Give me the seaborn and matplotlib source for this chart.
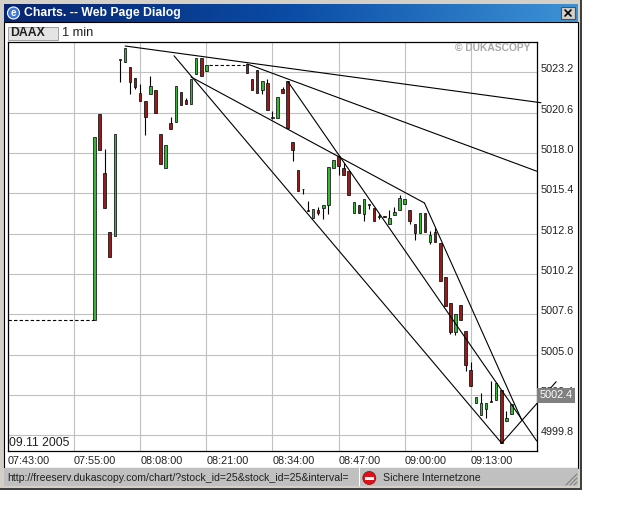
import numpy as np
import pandas as pd
import matplotlib
matplotlib.use("Agg")
import matplotlib.pyplot as plt
from matplotlib.colors import LinearSegmentedColormap
from matplotlib.patches import Rectangle, Circle
import seaborn as sns

# candle data (slot = 1 minute step on the x axis)
slots = list(range(17, 40)) + list(range(47, 100))
opens = [5007.21, 5020.50, 5016.72, 5012.89, 5012.63, 5024.00, 5023.86, 5023.54, 5022.83, 5021.86,
         5021.34, 5021.83, 5022.05, 5019.21, 5017.06, 5019.92, 5020.03, 5021.92, 5021.43, 5021.19,
         5023.12, 5024.15, 5023.32,
         5023.75, 5022.76, 5023.36, 5022.09, 5022.50, 5020.27, 5020.28, 5022.16, 5022.63, 5018.70,
         5016.89, 5015.66, 5014.33, 5013.80, 5014.33, 5014.48, 5014.63, 5017.06, 5017.83, 5017.02,
         5016.83, 5014.16, 5014.63, 5014.05, 5014.66, 5014.44, 5013.88, 5013.94, 5013.41, 5013.99,
         5014.31, 5014.70, 5014.31, 5013.41, 5012.83, 5014.12, 5012.29, 5012.93, 5012.18, 5009.99,
         5008.31, 5006.48, 5008.18, 5006.51, 5003.99, 5001.86, 5001.09, 5001.48, 5001.93, 5002.06,
         5002.70, 5000.70, 5001.15]
closes = [5019.02, 5018.22, 5014.48, 5011.28, 5019.21, 5024.07, 5024.78, 5022.61, 5022.28, 5021.38,
          5020.31, 5022.31, 5020.61, 5017.32, 5018.50, 5019.58, 5022.31, 5021.12, 5021.19, 5022.76,
          5024.15, 5022.99, 5023.66,
          5023.19, 5022.09, 5021.90, 5022.63, 5020.80, 5020.33, 5021.60, 5021.90, 5019.60, 5018.22,
          5015.54, 5015.70, 5014.29, 5014.38, 5014.16, 5014.67, 5017.09, 5017.54, 5017.19, 5016.61,
          5015.28, 5014.83, 5014.12, 5015.02, 5014.70, 5013.60, 5013.92, 5013.88, 5013.80, 5014.20,
          5015.09, 5015.02, 5013.60, 5012.83, 5014.12, 5012.89, 5012.72, 5012.29, 5009.77, 5008.12,
          5006.48, 5007.60, 5007.21, 5004.33, 5002.96, 5002.25, 5001.86, 5001.86, 5001.99, 5003.15,
          4999.28, 5000.90, 5001.80]
highs = [5019.02, 5020.50, 5018.26, 5012.89, 5019.21, 5024.07, 5024.78, 5023.54, 5022.83, 5022.46,
         5021.34, 5022.95, 5022.05, 5019.21, 5018.50, 5020.33, 5022.31, 5021.92, 5021.56, 5022.76,
         5024.15, 5024.15, 5023.66,
         5023.75, 5022.76, 5023.36, 5022.63, 5022.76, 5020.70, 5021.60, 5022.25, 5022.63, 5018.70,
         5016.89, 5015.70, 5014.89, 5014.38, 5014.52, 5014.67, 5017.09, 5017.54, 5017.83, 5017.38,
         5016.83, 5014.83, 5014.63, 5015.02, 5014.70, 5014.44, 5014.05, 5013.94, 5014.31, 5014.50,
         5015.28, 5015.02, 5014.31, 5013.41, 5014.12, 5014.12, 5013.00, 5013.15, 5012.18, 5009.99,
         5008.31, 5007.60, 5008.18, 5006.51, 5004.51, 5002.25, 5002.51, 5001.86, 5003.28, 5003.15,
         5002.70, 5001.35, 5001.80]
lows = [5007.21, 5018.22, 5014.48, 5011.28, 5012.63, 5022.61, 5023.86, 5021.83, 5022.12, 5021.38,
        5019.19, 5021.83, 5020.61, 5017.32, 5017.06, 5019.58, 5020.03, 5021.12, 5021.19, 5021.19,
        5023.12, 5022.99, 5023.32,
        5023.19, 5022.09, 5021.90, 5021.83, 5020.80, 5020.18, 5020.28, 5021.90, 5019.60, 5017.51,
        5015.54, 5015.38, 5014.29, 5013.80, 5014.01, 5013.73, 5014.07, 5017.06, 5016.61, 5016.61,
        5015.28, 5014.16, 5014.12, 5013.60, 5014.38, 5013.60, 5013.73, 5013.88, 5013.41, 5013.99,
        5014.31, 5014.70, 5013.41, 5012.40, 5012.83, 5012.89, 5012.12, 5012.29, 5009.77, 5008.12,
        5006.33, 5006.27, 5007.21, 5003.97, 5002.96, 5001.86, 5001.09, 5000.90, 5001.93, 5002.06,
        4999.28, 5000.70, 5001.15]

# trend lines: (slot, price) at both ends
trend_lines = {
    "a": ([23.05, 104.8], [5024.91, 5021.25]),
    "b": ([47.06, 104.0], [5023.75, 5016.83]),
    "c": ([36.0, 81.9], [5022.91, 5014.78]),
    "d": ([55.06, 103.97], [5022.61, 4999.43]),
    "e": ([32.65, 97.09], [5024.28, 4999.28]),
    "f": ([81.9, 101.0], [5014.78, 5000.79]),
    "g": ([97.09, 107.8], [4999.28, 5003.25]),
}
dashed_lines = {
    "start": ([0, 17], [5007.21, 5007.21]),
    "gap": ([39.5, 46.6], [5023.66, 5023.66]),
}

x_ticks = [0, 13, 26, 39, 52, 65, 78, 91]
x_labels = ["07:43:00", "07:55:00", "08:08:00", "08:21:00", "08:34:00", "08:47:00", "09:00:00", "09:13:00"]
y_ticks = [5023.2, 5020.6, 5018.0, 5015.4, 5012.8, 5010.2, 5007.6, 5005.0, 5002.4, 4999.8]

sns.set_style("whitegrid", {"grid.color": "#c0c0c0", "axes.edgecolor": "black"})
plt.rcParams["font.family"] = ["Liberation Sans", "DejaVu Sans"]

df = pd.DataFrame({"slot": slots, "open": opens, "close": closes, "high": highs, "low": lows})
df["up"] = df["close"] >= df["open"]

W, H = 640, 512
fig = plt.figure(figsize=(6.4, 5.12), dpi=100, facecolor="white")

# window frame behind the chart
chrome = fig.add_axes([0, 0, 1, 1], zorder=0)
chrome.axis("off")
chrome.add_patch(Rectangle((0, 0), 582, 490, fc="#d4d0c8", ec="none"))
chrome.add_patch(Rectangle((580, 0), 2, 490, fc="#404040", ec="none"))
chrome.add_patch(Rectangle((0, 488), 582, 2, fc="#404040", ec="none"))
chrome.add_patch(Rectangle((4, 22), 574, 446, fc="white", ec="black", lw=0.8))

title_cmap = LinearSegmentedColormap.from_list("title", ["#08246e", "#0a4ca6", "#3d93d6"])
chrome.imshow(np.linspace(0, 1, 256).reshape(1, -1), cmap=title_cmap, extent=(4, 578, 22, 4),
              aspect="auto", zorder=1.5)
chrome.set_xlim(0, W)
chrome.set_ylim(H, 0)
chrome.text(24.5, 13, "Charts. -- Web Page Dialog", color="white", fontsize=8.8, fontweight="bold", va="center")
chrome.add_patch(Circle((13.5, 13), 6, fc="#3a78d8", ec="white", lw=0.8, zorder=2))
chrome.text(13.5, 12.5, "e", color="white", fontsize=7, fontweight="bold", ha="center", va="center")

chrome.add_patch(Rectangle((561, 7), 14, 12, fc="#d4d0c8", ec="#505050", lw=0.8, zorder=2))
chrome.plot([565, 571], [10, 16], color="black", lw=1.2, zorder=2.5)
chrome.plot([565, 571], [16, 10], color="black", lw=1.2, zorder=2.5)

chrome.add_patch(Rectangle((7.5, 27), 50, 13, fc="#e4e4e4", ec="#a0a0a0", lw=0.7))
chrome.text(10.5, 33, "DAAX", fontsize=8.8, fontweight="bold", color="#202020", va="center")
chrome.text(62, 33, "1 min", fontsize=9.2, color="#202020", va="center")

# status bar
chrome.add_patch(Rectangle((4, 468), 574, 18, fc="#c0c0c0", ec="none"))
chrome.add_patch(Rectangle((358.5, 468), 1.5, 18, fc="white", ec="none"))
status = chrome.text(7, 478, "http://freeserv.dukascopy.com/chart/?stock_id=25&stock_id=25&interval=",
                     fontsize=7.6, color="#202020", va="center")
status.set_clip_path(Rectangle((4, 468), 353, 18, transform=chrome.transData))
chrome.add_patch(Circle((369.3, 478), 6.5, fc="#e01018", ec="#801010", lw=0.5))
chrome.add_patch(Rectangle((364.5, 476.5), 9.6, 3, fc="white", ec="none"))
chrome.text(382.7, 478, "Sichere Internetzone", fontsize=7.6, color="#202020", va="center")
for off in (0, 4, 8):
    chrome.plot([566 + off, 577], [485, 474 + off], color="#808080", lw=0.8)

# price chart
ax = fig.add_axes([8 / W, 1 - 451 / H, 529 / W, 409.5 / H], zorder=1)
ax.set_axisbelow(True)
ax.grid(True, color="#c0c0c0", lw=0.8)

ax.vlines(df["slot"], df["low"], df["high"], color="black", lw=0.8, zorder=2)
for up, colour in ((True, "#3cb43c"), (False, "#961c1c")):
    part = df[df["up"] == up]
    ax.bar(part["slot"], (part["close"] - part["open"]).abs(), bottom=part[["open", "close"]].min(axis=1),
           width=0.5, color=colour, edgecolor="black", linewidth=0.5, zorder=2.2)

for xs, ys in trend_lines.values():
    sns.lineplot(x=xs, y=ys, ax=ax, color="black", lw=0.8, estimator=None, sort=False, zorder=2.5)
for line in ax.get_lines():
    line.set_clip_on(False)
for xs, ys in dashed_lines.values():
    ax.plot(xs, ys, color="black", lw=0.8, ls=(0, (3, 2)), zorder=2.5)

ax.set_xlim(0, 104.03)
ax.set_ylim(4998.78, 5025.2)
ax.set_xticks(x_ticks)
ax.set_xticklabels(x_labels, ha="left", fontsize=7.8, color="#202020")
ax.set_yticks(y_ticks)
ax.set_yticklabels([f"{v:.1f}" for v in y_ticks], fontsize=7.8, color="#202020", va="baseline")
ax.yaxis.tick_right()
ax.tick_params(axis="x", length=0, pad=3.6)
ax.tick_params(axis="y", length=0, pad=2.6)
ax.set_xlabel("")
ax.set_ylabel("")
for spine in ax.spines.values():
    spine.set_color("black")
    spine.set_linewidth(0.9)

ax.text(0.987, 0.996, "© DUKASCOPY", transform=ax.transAxes, ha="right", va="top",
        fontsize=7.4, fontweight="bold", color="#a8a8a8")
ax.text(0.0015, 0.004, "09.11 2005", transform=ax.transAxes, ha="left", va="bottom",
        fontsize=8.8, color="#202020")
ax.text(1.0045, 5002.37, "5002.4", transform=ax.get_yaxis_transform(), ha="left", va="center",
        fontsize=7.8, color="white", zorder=5,
        bbox=dict(fc="#808080", ec="none", boxstyle="square,pad=0.25"))

fig.savefig("out.png", dpi=100)
